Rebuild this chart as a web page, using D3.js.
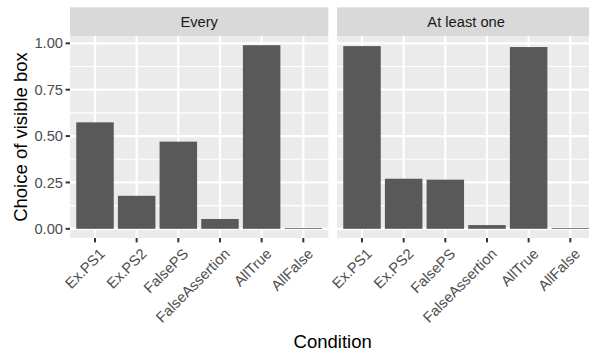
<!DOCTYPE html>
<html>
<head>
<meta charset="utf-8">
<script src="https://cdn.jsdelivr.net/npm/d3@7"></script>
<style>
  body { margin: 0; background: #fff; }
  svg { display: block; font-family: "Liberation Sans", Arial, sans-serif; }
</style>
</head>
<body>
<div id="chart"></div>
<script>
(function(d3){

    // Data
    const conditions = ['Ex.PS1', 'Ex.PS2', 'FalsePS', 'FalseAssertion', 'AllTrue', 'AllFalse'];
    const facets = ['Every', 'At least one'];
    const everyValues = [0.574, 0.178, 0.470, 0.053, 0.990, 0.004];
    const atLeastOneValues = [0.985, 0.270, 0.265, 0.020, 0.980, 0.004];
    const yTicks = [0, 0.25, 0.5, 0.75, 1];
    const yMinor = [0.125, 0.375, 0.625, 0.875];

    const seriesByFacet = [everyValues, atLeastOneValues];

    let width = 589, height = 353;

    // Panel geometry (ggplot-like)
    let panelTop = 36, panelBottom = 238;
    let stripTop = 7.3;
    let panels = [{x0: 70, x1: 328.3}, {x0: 337, x1: 595.3}];

    let tickFont = 14.7, titleFont = 18.5;

    let svg = d3.select('#chart')
        .append('svg')
        .attr('width', width)
        .attr('height', height);

    // ggplot expands continuous axis by 5% of data range
    let yMax = d3.max(seriesByFacet.flat());
    let pad = yMax * 0.05;
    let y = d3.scaleLinear()
        .domain([-pad, yMax + pad])
        .range([panelBottom, panelTop]);

    panels.forEach((p, i) => {
        let x = d3.scalePoint()
            .domain(conditions)
            .range([p.x0, p.x1])
            .padding(0.6);
        let bw = x.step() * 0.9;

        // Panel background
        svg.append('rect')
            .attr('x', p.x0).attr('y', panelTop)
            .attr('width', p.x1 - p.x0).attr('height', panelBottom - panelTop)
            .attr('fill', '#EBEBEB');

        // Minor grid
        svg.selectAll(null).data(yMinor).enter().append('line')
            .attr('x1', p.x0).attr('x2', p.x1)
            .attr('y1', d => y(d)).attr('y2', d => y(d))
            .attr('stroke', '#fff').attr('stroke-width', 1.1);

        // Major grid
        svg.selectAll(null).data(yTicks).enter().append('line')
            .attr('x1', p.x0).attr('x2', p.x1)
            .attr('y1', d => y(d)).attr('y2', d => y(d))
            .attr('stroke', '#fff').attr('stroke-width', 2.2);

        svg.selectAll(null).data(conditions).enter().append('line')
            .attr('x1', d => x(d)).attr('x2', d => x(d))
            .attr('y1', panelTop).attr('y2', panelBottom)
            .attr('stroke', '#fff').attr('stroke-width', 2.2);

        // Bars
        svg.selectAll(null).data(seriesByFacet[i]).enter().append('rect')
            .attr('x', (d, j) => x(conditions[j]) - bw / 2)
            .attr('width', bw)
            .attr('y', d => y(d))
            .attr('height', d => y(0) - y(d))
            .attr('fill', '#595959');

        // Strip
        svg.append('rect')
            .attr('x', p.x0).attr('y', stripTop)
            .attr('width', p.x1 - p.x0).attr('height', panelTop - stripTop)
            .attr('fill', '#D9D9D9');
        svg.append('text')
            .attr('x', (p.x0 + p.x1) / 2)
            .attr('y', (stripTop + panelTop) / 2)
            .attr('dy', '0.35em')
            .attr('text-anchor', 'middle')
            .attr('font-size', tickFont)
            .attr('fill', '#1A1A1A')
            .text(facets[i]);

        // X ticks and rotated labels
        svg.selectAll(null).data(conditions).enter().append('line')
            .attr('x1', d => x(d)).attr('x2', d => x(d))
            .attr('y1', panelBottom).attr('y2', panelBottom + 4.4)
            .attr('stroke', '#333').attr('stroke-width', 2);

        svg.selectAll(null).data(conditions).enter().append('text')
            .attr('transform', d => `translate(${x(d) + 3},${panelBottom + 9}) rotate(-45)`)
            .attr('text-anchor', 'end')
            .attr('dy', '0.75em')
            .attr('font-size', tickFont)
            .attr('fill', '#4D4D4D')
            .text(d => d);
    });

    // Y axis ticks and labels (left panel only)
    let p0 = panels[0];
    svg.selectAll(null).data(yTicks).enter().append('line')
        .attr('x1', p0.x0 - 4.4).attr('x2', p0.x0)
        .attr('y1', d => y(d)).attr('y2', d => y(d))
        .attr('stroke', '#333').attr('stroke-width', 2);

    svg.selectAll(null).data(yTicks).enter().append('text')
        .attr('x', p0.x0 - 7)
        .attr('y', d => y(d))
        .attr('dy', '0.35em')
        .attr('text-anchor', 'end')
        .attr('font-size', tickFont)
        .attr('fill', '#4D4D4D')
        .text(d => d3.format('.2f')(d));

    // Axis titles
    svg.append('text')
        .attr('transform', `translate(27,${(panelTop + panelBottom) / 2}) rotate(-90)`)
        .attr('text-anchor', 'middle')
        .attr('font-size', titleFont)
        .attr('fill', '#000')
        .text('Choice of visible box');

    svg.append('text')
        .attr('x', (panels[0].x0 + panels[1].x1) / 2)
        .attr('y', 348)
        .attr('text-anchor', 'middle')
        .attr('font-size', titleFont)
        .attr('fill', '#000')
        .text('Condition');

})(window.d3);
</script>
</body>
</html>
